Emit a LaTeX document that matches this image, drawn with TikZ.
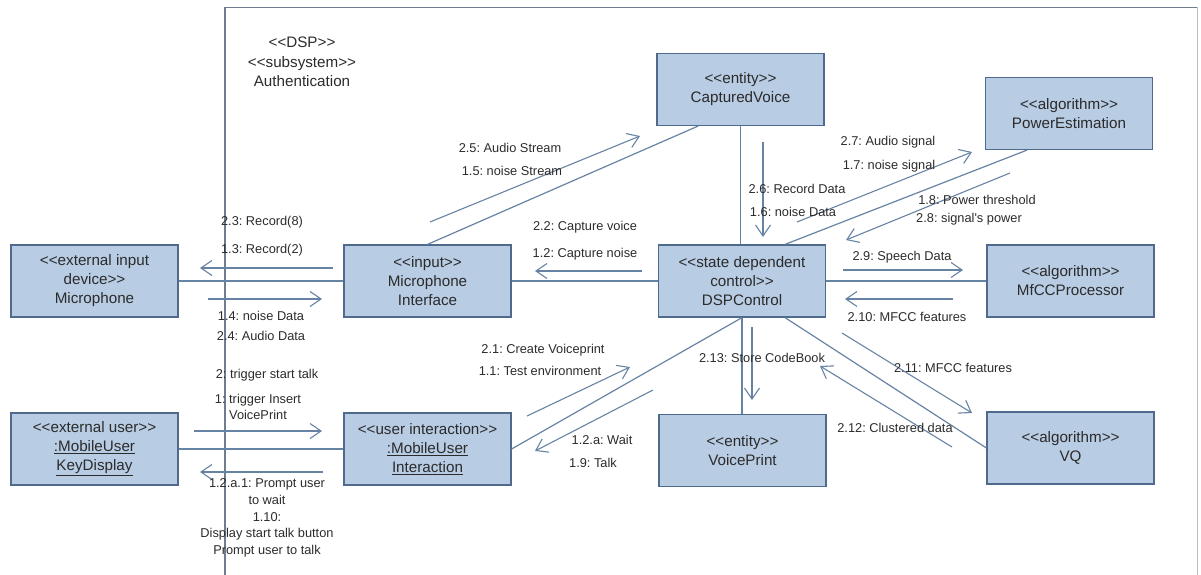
\documentclass[tikz,border=0pt]{standalone}
\usepackage{fontspec}
\setmainfont{Liberation Sans}[Ligatures=TeXOff]
\usetikzlibrary{arrows.meta}
\definecolor{boxfill}{HTML}{B8CCE4}
\definecolor{boxline}{HTML}{4F6A8C}
\definecolor{wire}{HTML}{6783A3}
\definecolor{ink}{HTML}{2B2B2B}
\definecolor{frameline}{HTML}{6E7E8E}
\frenchspacing
\begin{document}
\begin{tikzpicture}[x=1pt,y=-1pt,
  obj/.style={draw=boxline, fill=boxfill, line width=1.2pt, minimum width=167pt,
    minimum height=72pt, inner sep=0pt, align=center,
    font=\fontsize{15.2}{19}\selectfont, text=ink},
  link/.style={draw=wire, line width=1.2pt},
  msg/.style={draw=wire, line width=1.1pt, -{Straight Barb[length=11pt,width=15pt]}},
  lbl/.style={font=\fontsize{12.8}{16.8}\selectfont, text=ink, inner sep=0pt, align=center},
]
\useasboundingbox (0,0) rectangle (1201,575);

% subsystem frame
\draw[frameline, line width=1.2pt] (225,575) -- (225,7.5) -- (1197,7.5);
\draw[frameline!50, line width=1pt] (1197,7.5) -- (1197,575);
\node[font=\fontsize{15.2}{19.5}\selectfont, text=ink, align=center, inner sep=0pt] (title)
  at (302,62) {<<DSP>>\\<<subsystem>>\\Authentication};

% objects
\node[obj] (mic)   at (94.5,281)  {<<external input\\device>>\\Microphone};
\node[obj] (micif) at (427.5,281) {<<input>>\\Microphone\\Interface};
\node[obj] (dsp)   at (742,281)   {<<state dependent\\control>>\\DSPControl};
\node[obj] (mfcc)  at (1070.5,281){<<algorithm>>\\MfCCProcessor};
\node[obj] (cap)   at (740.5,89.5){<<entity>>\\CapturedVoice};
\node[obj] (pow)   at (1069,113.5){<<algorithm>>\\PowerEstimation};
\node[obj] (kd)    at (94.5,449)  {<<external user>>\\\underline{:MobileUser}\\\underline{KeyDisplay}};
\node[obj] (ui)    at (427.5,449) {<<user interaction>>\\\underline{:MobileUser}\\\underline{Interaction}};
\node[obj] (vp)    at (742.5,450.5){<<entity>>\\VoicePrint};
\node[obj] (vq)    at (1070.5,448){<<algorithm>>\\VQ};

% links between objects
\draw[link] (mic) -- (micif);
\draw[link] (micif) -- (dsp);
\draw[link] (dsp) -- (mfcc);
\draw[link] (kd) -- (ui);
\draw[link] (micif.north) -- ([xshift=-42.5pt]cap.south);
\draw[link] (cap.south) -- (cap.south |- dsp.north);
\draw[link] ([xshift=43pt]dsp.north) -- ([xshift=-42pt]pow.south);
\draw[link] (dsp.south) -- (dsp.south |- vp.north);
\draw[link] (dsp.south) -- (ui.east);
\draw[link] ([xshift=43pt]dsp.south) -- (vq.west);

% message arrow end points
\coordinate (a23s) at (333,268);  \coordinate (a23e) at (200,268);
\coordinate (a14s) at (208,299);  \coordinate (a14e) at (322,299);
\coordinate (a1s)  at (194,431);  \coordinate (a1e)  at (322,431);
\coordinate (a10s) at (323,472);  \coordinate (a10e) at (200,472);
\coordinate (a22s) at (642,271);  \coordinate (a22e) at (535,271);
\coordinate (a25s) at (430,222);  \coordinate (a25e) at (640,136);
\coordinate (a26s) at (763,142);  \coordinate (a26e) at (763,237);
\coordinate (a27s) at (797,222);  \coordinate (a27e) at (972,152);
\coordinate (a18s) at (1010,173); \coordinate (a18e) at (846,240);
\coordinate (a29s) at (843,270);  \coordinate (a29e) at (963,270);
\coordinate (a210s) at (953,299); \coordinate (a210e) at (845,299);
\coordinate (a211s) at (842,333); \coordinate (a211e) at (972,413);
\coordinate (a212s) at (952,447); \coordinate (a212e) at (820,366);
\coordinate (a213s) at (752,327); \coordinate (a213e) at (752,400);
\coordinate (a21s) at (527,416);  \coordinate (a21e) at (630,367);
\coordinate (a12s) at (653,390);  \coordinate (a12e) at (535,451);

% message arrows
\foreach \m in {23,14,1,10,22,25,26,27,18,29,210,211,212,213,21,12}
  \draw[msg] (a\m s) -- (a\m e);

% message labels
\node[lbl] (l23)  at (262,222) {2.3: Record(8)};
\node[lbl] (l13)  at (262,250) {1.3: Record(2)};
\node[lbl] (l14)  at (261,316) {1.4: noise Data};
\node[lbl] (l24)  at (261,336) {2.4: Audio Data};
\node[lbl] (l2)   at (267,375) {2: trigger start talk};
\node[lbl] (l1)   at (258,407) {1: trigger Insert\\VoicePrint};
\node[lbl] (l110) at (267,518) {1.2.a.1: Prompt user\\to wait\\1.10:\\Display start talk button\\Prompt user to talk};
\node[lbl] (l22)  at (585,227) {2.2: Capture voice};
\node[lbl] (l12)  at (585,254) {1.2: Capture noise};
\node[lbl] (l25)  at (510,148) {2.5: Audio Stream};
\node[lbl] (l15)  at (512,171) {1.5: noise Stream};
\node[lbl] (l26)  at (797,189) {2.6: Record Data};
\node[lbl] (l16)  at (793,212) {1.6: noise Data};
\node[lbl] (l27)  at (888,142) {2.7: Audio signal};
\node[lbl] (l17)  at (889,166) {1.7: noise signal};
\node[lbl] (l18)  at (977,200) {1.8: Power threshold};
\node[lbl] (l28)  at (969,219) {2.8: signal's power};
\node[lbl] (l29)  at (902,257) {2.9: Speech Data};
\node[lbl] (l210) at (907,317) {2.10: MFCC features};
\node[lbl] (l211) at (953,368) {2.11: MFCC features};
\node[lbl] (l212) at (895,428) {2.12: Clustered data};
\node[lbl] (l213) at (762,358) {2.13: Store CodeBook};
\node[lbl] (l21)  at (543,350) {2.1: Create Voiceprint};
\node[lbl] (l11)  at (540,371) {1.1: Test environment};
\node[lbl] (l12a) at (602,440) {1.2.a: Wait};
\node[lbl] (l19)  at (593,463) {1.9: Talk};
\end{tikzpicture}
\end{document}
